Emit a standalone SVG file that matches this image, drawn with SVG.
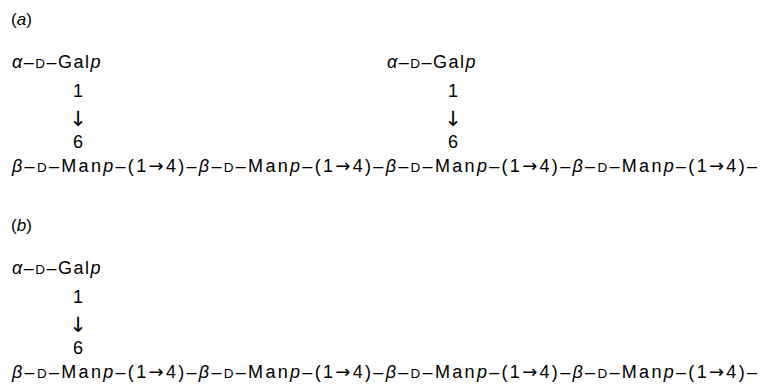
<svg xmlns="http://www.w3.org/2000/svg" width="762" height="385" viewBox="0 0 762 385">
<style>
text{font-family:"Liberation Sans",Arial,sans-serif;fill:#000}
.lbl{font-size:17px}
.t{font-size:18px}
.g{font-size:18px;letter-spacing:1.5px}
.i{font-style:italic}
.sc{font-size:13.5px}
.n{font-size:18px;text-anchor:middle}
.ar{font-family:"DejaVu Sans",sans-serif;font-weight:normal}
.dn{font-family:"DejaVu Sans",sans-serif;font-size:21px;text-anchor:middle}
</style>
<rect width="762" height="385" fill="#fff"/>
<g id="panel-a">
  <text id="label-a" class="lbl" x="11" y="25">(<tspan class="i">a</tspan>)</text>
  <g id="gal-a1">
    <text class="g" x="12" y="68"><tspan class="i">α</tspan>–<tspan class="sc">D</tspan>–Gal<tspan class="i">p</tspan></text>
  </g>
  <g id="gal-a2">
    <text class="g" x="387" y="68"><tspan class="i">α</tspan>–<tspan class="sc">D</tspan>–Gal<tspan class="i">p</tspan></text>
  </g>
  <g id="chain-a">
    <text class="t" x="12" y="172" textLength="745" lengthAdjust="spacing"><tspan class="i">β</tspan>–<tspan class="sc">D</tspan>–Man<tspan class="i">p</tspan>–(1<tspan class="ar">→</tspan>4)–<tspan class="i">β</tspan>–<tspan class="sc">D</tspan>–Man<tspan class="i">p</tspan>–(1<tspan class="ar">→</tspan>4)–<tspan class="i">β</tspan>–<tspan class="sc">D</tspan>–Man<tspan class="i">p</tspan>–(1<tspan class="ar">→</tspan>4)–<tspan class="i">β</tspan>–<tspan class="sc">D</tspan>–Man<tspan class="i">p</tspan>–(1<tspan class="ar">→</tspan>4)–</text>
  </g>
  <g id="links-a">
    <text class="n" x="78" y="97">1</text>
    <text class="dn" x="78" y="126">↓</text>
    <text class="n" x="78" y="148">6</text>
    <text class="n" x="453" y="97">1</text>
    <text class="dn" x="453" y="126">↓</text>
    <text class="n" x="453" y="148">6</text>
  </g>
</g>
<g id="panel-b">
  <text id="label-b" class="lbl" x="11" y="231">(<tspan class="i">b</tspan>)</text>
  <g id="gal-b1">
    <text class="g" x="12" y="274"><tspan class="i">α</tspan>–<tspan class="sc">D</tspan>–Gal<tspan class="i">p</tspan></text>
  </g>
  <g id="chain-b">
    <text class="t" x="12" y="378" textLength="745" lengthAdjust="spacing"><tspan class="i">β</tspan>–<tspan class="sc">D</tspan>–Man<tspan class="i">p</tspan>–(1<tspan class="ar">→</tspan>4)–<tspan class="i">β</tspan>–<tspan class="sc">D</tspan>–Man<tspan class="i">p</tspan>–(1<tspan class="ar">→</tspan>4)–<tspan class="i">β</tspan>–<tspan class="sc">D</tspan>–Man<tspan class="i">p</tspan>–(1<tspan class="ar">→</tspan>4)–<tspan class="i">β</tspan>–<tspan class="sc">D</tspan>–Man<tspan class="i">p</tspan>–(1<tspan class="ar">→</tspan>4)–</text>
  </g>
  <g id="links-b">
    <text class="n" x="78" y="303">1</text>
    <text class="dn" x="78" y="332">↓</text>
    <text class="n" x="78" y="354">6</text>
  </g>
</g>
</svg>
